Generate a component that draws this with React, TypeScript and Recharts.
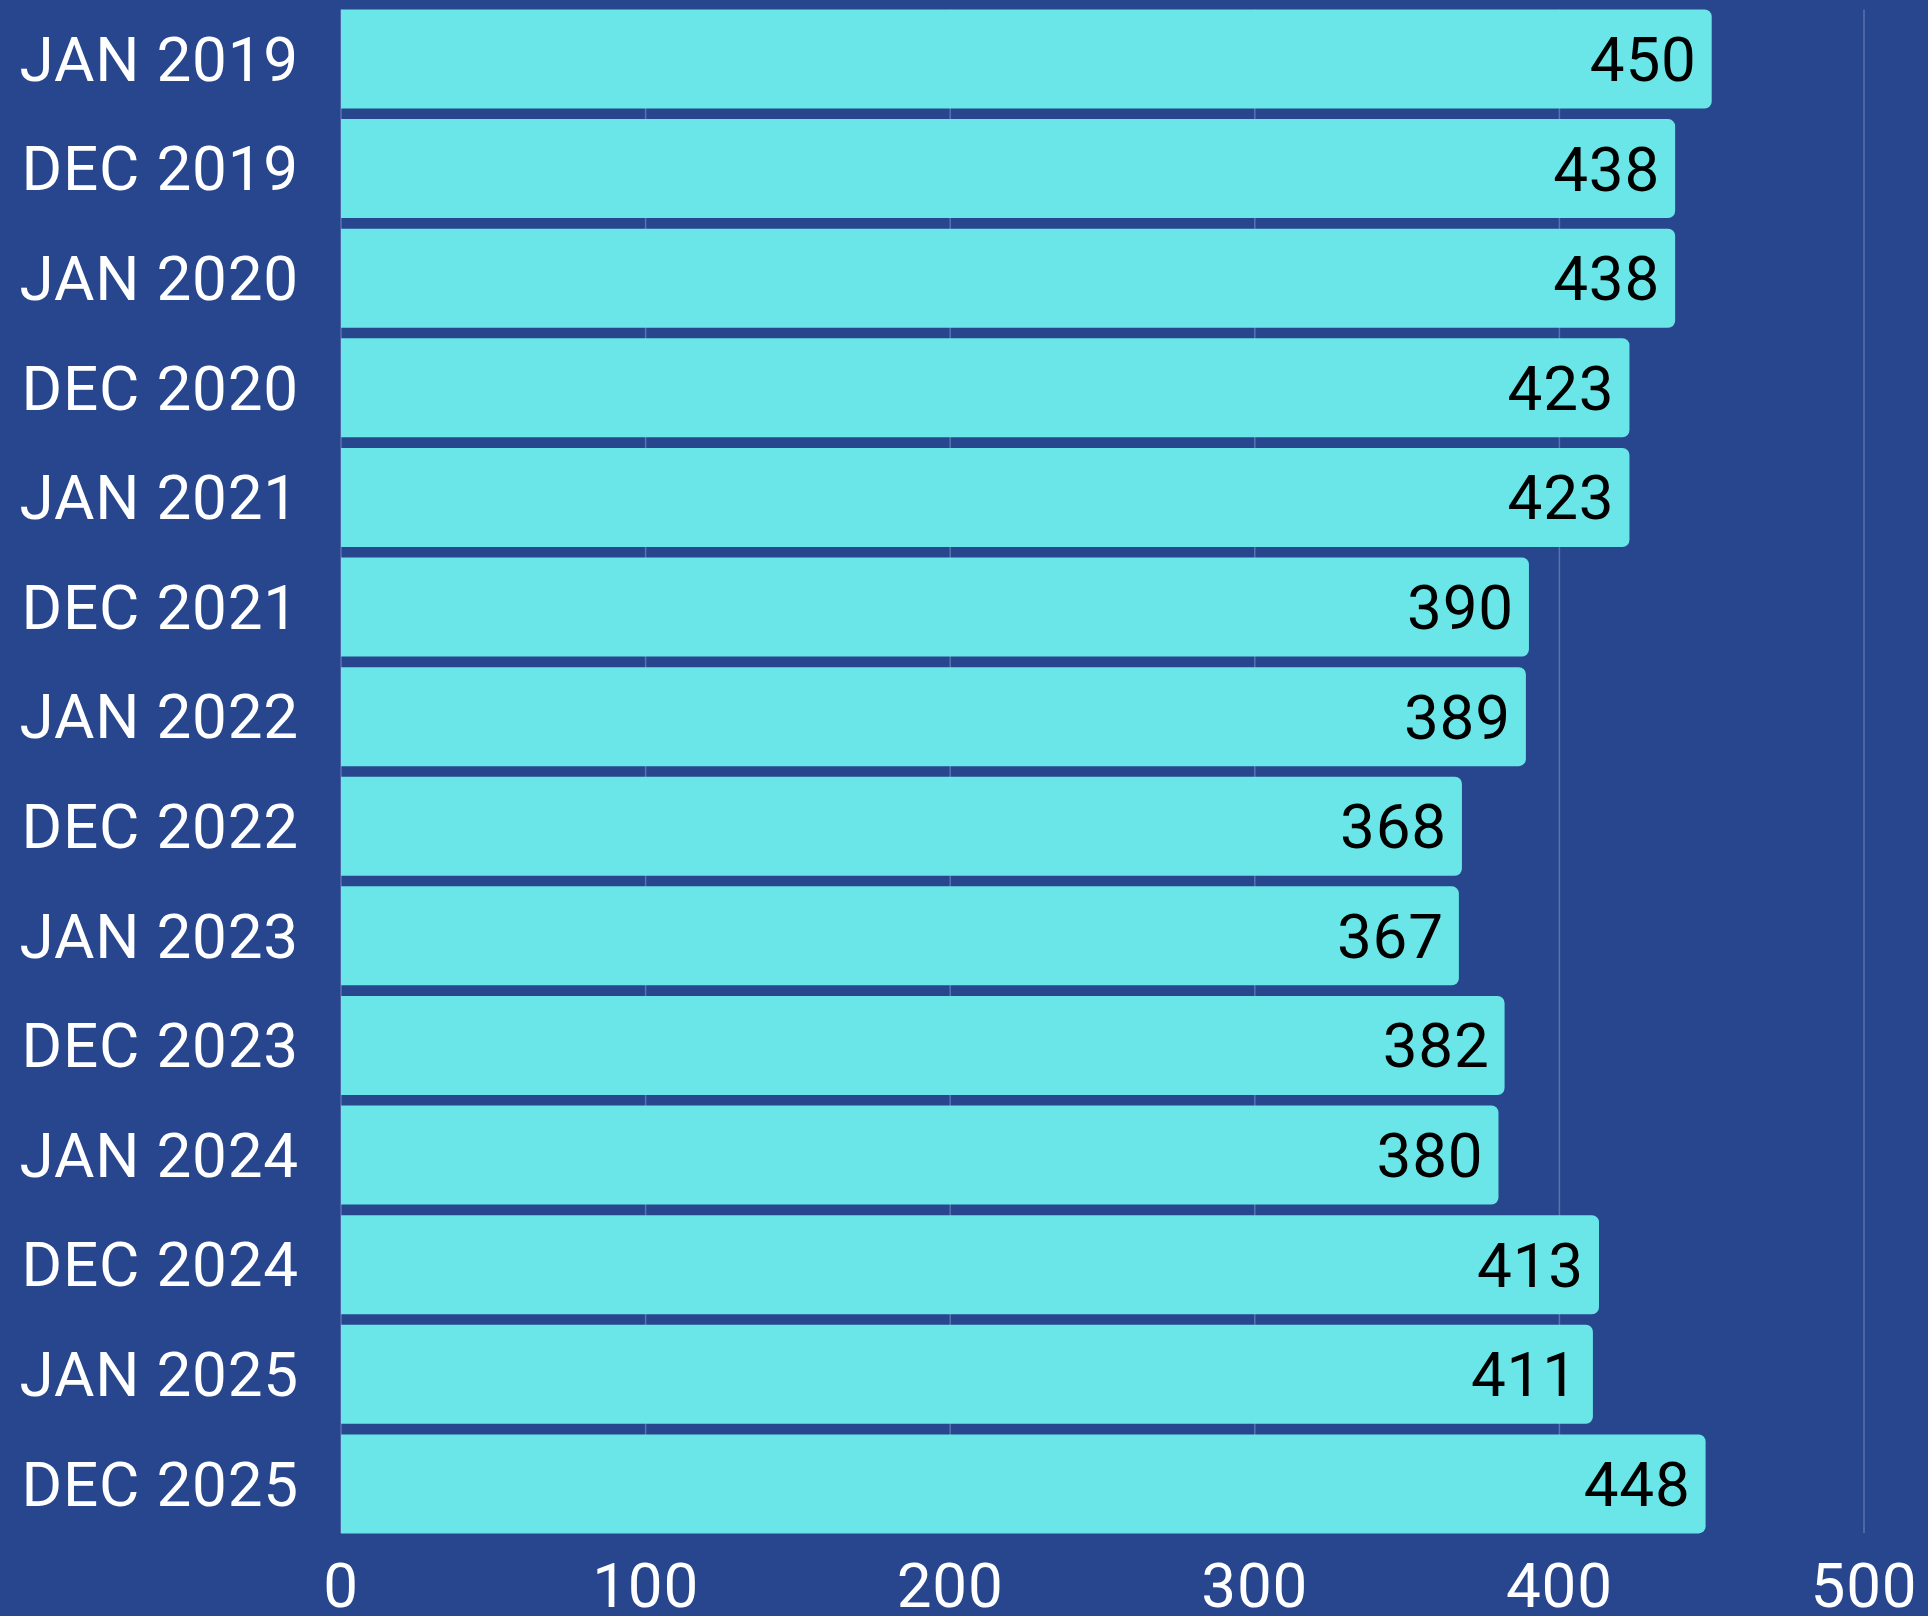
import { Bar, BarChart, CartesianGrid, LabelList, XAxis, YAxis } from "recharts";

const periods = [
  "JAN 2019",
  "DEC 2019",
  "JAN 2020",
  "DEC 2020",
  "JAN 2021",
  "DEC 2021",
  "JAN 2022",
  "DEC 2022",
  "JAN 2023",
  "DEC 2023",
  "JAN 2024",
  "DEC 2024",
  "JAN 2025",
  "DEC 2025",
];
const counts = [450, 438, 438, 423, 423, 390, 389, 368, 367, 382, 380, 413, 411, 448];
const xTicks = [0, 100, 200, 300, 400, 500];

const data = periods.map((period, i) => ({ period, count: counts[i] }));

const FONT = "Roboto, 'Liberation Sans', sans-serif";
const BG = "#27468e";

function PeriodTick({ x, y, payload }: any) {
  return (
    <text
      x={x - 42}
      y={y + 22}
      textAnchor="end"
      fill="#ffffff"
      fontSize={62}
      letterSpacing={0.8}
      fontFamily={FONT}
    >
      {payload.value}
    </text>
  );
}

function ValueTick({ x, y, payload }: any) {
  return (
    <text
      x={x}
      y={y + 74}
      textAnchor="middle"
      fill="#ffffff"
      fontSize={62}
      letterSpacing={0.8}
      fontFamily={FONT}
    >
      {payload.value}
    </text>
  );
}

export default function App() {
  return (
    <div style={{ position: "absolute", left: 0, top: 0, width: 1928, height: 1616, background: BG }}>
      <BarChart
        width={1928}
        height={1616}
        data={data}
        layout="vertical"
        margin={{ top: 9.5, right: 64, bottom: 0, left: 0 }}
        barCategoryGap={5.5}
      >
        <CartesianGrid horizontal={false} stroke="#5a72b0" strokeWidth={1.5} />
        <XAxis
          type="number"
          domain={[0, 500]}
          ticks={xTicks}
          height={83}
          axisLine={false}
          tickLine={false}
          tickSize={0}
          tickMargin={0}
          tick={<ValueTick />}
          interval={0}
        />
        <YAxis
          type="category"
          dataKey="period"
          width={341}
          axisLine={false}
          tickLine={false}
          tickSize={0}
          tickMargin={0}
          tick={<PeriodTick />}
          interval={0}
          padding={{ top: -5.5, bottom: -5.5 }}
        />
        <Bar dataKey="count" fill="#6ae6e8" radius={[0, 7, 7, 0]} isAnimationActive={false}>
          <LabelList
            dataKey="count"
            position="insideRight"
            offset={15}
            fill="#000000"
            fontSize={62}
            letterSpacing={0.8}
            fontFamily={FONT}
          />
        </Bar>
      </BarChart>
    </div>
  );
}
